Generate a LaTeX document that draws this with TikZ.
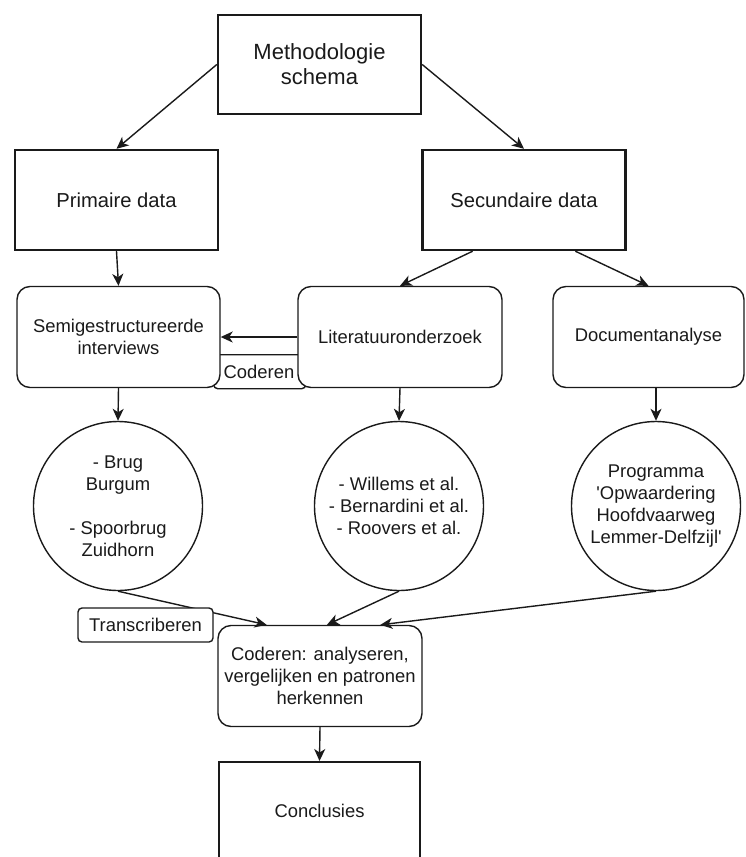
\documentclass[tikz,border=0pt]{standalone}
\usepackage{fontspec}
\setmainfont{Liberation Sans}
\usetikzlibrary{arrows.meta,calc}
\definecolor{ink}{HTML}{1A1A1A}
\begin{document}
\begin{tikzpicture}[x=1pt,y=-1pt,
  every node/.style={text=ink, align=center, inner sep=0pt},
  bigbox/.style={draw=ink, line width=2.4pt, fill=white, minimum width=203pt, minimum height=99pt, font=\fontsize{22}{25}\selectfont},
  databox/.style={draw=ink, line width=2.4pt, fill=white, minimum width=203pt, minimum height=100pt, font=\fontsize{20.2}{24}\selectfont},
  concbox/.style={draw=ink, line width=2.4pt, fill=white, minimum width=201pt, minimum height=100pt, font=\fontsize{18.4}{22}\selectfont},
  roundbox/.style={draw=ink, line width=1.4pt, fill=white, rounded corners=13pt, minimum height=101pt, font=\fontsize{18.4}{22}\selectfont},
  circ/.style={circle, draw=ink, line width=1.4pt, fill=white, minimum size=169pt, font=\fontsize{18.4}{22}\selectfont},
  lbl/.style={draw=ink, line width=1.4pt, fill=white, rounded corners=4pt, font=\fontsize{18.4}{22}\selectfont},
  arr/.style={draw=ink, line width=1.4pt, -{Stealth[length=12pt,width=11pt,inset=3.5pt]}},
  plain/.style={draw=ink, line width=1.4pt}
]
\useasboundingbox (0,0) rectangle (745,857);
\clip (0,0) rectangle (745,857);

% Coderen label box (behind the boxes)
\node[lbl, minimum width=92pt, minimum height=34pt, anchor=north west] (codlbl) at (213,354) {};
\node[font=\fontsize{18.4}{22}\selectfont] (codtxt) at (259,372) {Coderen};

% nodes
\node[bigbox] (top) at (319.5,64.5) {Methodologie\\schema};
\node[databox] (prim) at (116.5,200) {Primaire data};
\node[databox] (sec) at (524,200) {Secundaire data};
\node[roundbox, minimum width=203pt] (semi) at (118.5,337) {Semigestructureerde\\interviews};
\node[roundbox, minimum width=204pt] (lit) at (400,337) {Literatuuronderzoek};
\node[roundbox, minimum width=191pt] (doc) at (648.5,337) {Documentanalyse};
\node[circ] (cL) at (118,506) {- Brug\\Burgum\\\mbox{}\\- Spoorbrug\\Zuidhorn};
\node[circ] (cM) at (399,506) {- Willems et al.\\- Bernardini et al.\\- Roovers et al.};
\node[circ] (cR) at (656,506) {Programma\\\textquotesingle Opwaardering\\Hoofdvaarweg\\Lemmer-Delfzijl\textquotesingle};
\node[roundbox, minimum width=204pt] (cod) at (320,676) {Coderen: analyseren,\\vergelijken en patronen\\herkennen};
\node[concbox, anchor=north] (conc) at (319.5,761) {};
\node[font=\fontsize{18.4}{22}\selectfont] (conctxt) at (319.5,811) {Conclusies};

% connectors
\draw[arr] (top.west) -- (prim.north);
\draw[arr] (top.east) -- (sec.north);
\draw[arr] (prim.south) -- (semi.north);
\coordinate (secA) at ($(sec.south west)!0.25!(sec.south east)$);
\coordinate (secB) at ($(sec.south west)!0.75!(sec.south east)$);
\draw[arr] (secA) -- (lit.north);
\draw[arr] (secB) -- (doc.north);
\draw[arr] (lit.west) -- (semi.east);
\draw[arr] (semi.south) -- (cL.north);
\draw[arr] (lit.south) -- (cM.north);
\draw[arr] (cR.north |- doc.south) -- (cR.north);
\coordinate (codL) at ($(cod.north west)!0.24!(cod.north east)$);
\coordinate (codM) at ($(cod.north west)!0.534!(cod.north east)$);
\coordinate (codR) at ($(cod.north west)!0.794!(cod.north east)$);
\draw[arr] (cL.south) -- (codL);
\draw[arr] (cM.south) -- (codM);
\draw[arr] (cR.south) -- (codR);
\draw[arr] (cod.south) -- (conc.north);

% Transcriberen label on the left connector
\node[lbl, minimum width=135pt, minimum height=34pt] (trans) at (145.5,625) {Transcriberen};
\end{tikzpicture}
\end{document}
